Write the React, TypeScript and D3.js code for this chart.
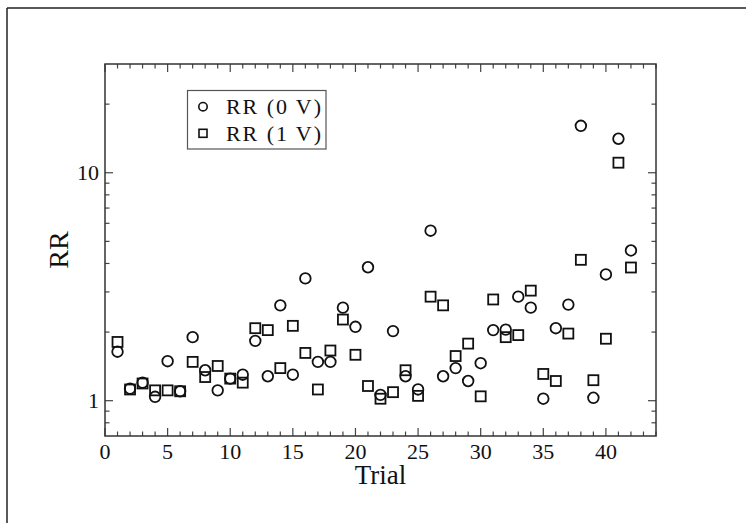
import React from "react";
import * as d3 from "d3";

const trials = [1,2,3,4,5,6,7,8,9,10,11,12,13,14,15,16,17,18,19,20,21,22,23,24,25,26,27,28,29,30,31,32,33,34,35,36,37,38,39,40,41,42];
const rr0V = [1.64,1.13,1.20,1.04,1.49,1.10,1.90,1.36,1.11,1.25,1.30,1.83,1.28,2.62,1.30,3.44,1.48,1.48,2.56,2.11,3.85,1.06,2.02,1.28,1.12,5.57,1.28,1.39,1.22,1.46,2.04,2.05,2.86,2.56,1.02,2.08,2.64,16.07,1.03,3.58,14.1,4.56];
const rr1V = [1.81,1.12,1.19,1.11,1.11,1.10,1.48,1.27,1.42,1.25,1.20,2.08,2.04,1.39,2.13,1.62,1.12,1.66,2.27,1.59,1.16,1.02,1.09,1.36,1.05,2.86,2.62,1.57,1.78,1.045,2.78,1.90,1.94,3.04,1.31,1.22,1.97,4.15,1.23,1.87,11.07,3.84];
const xTicks = [0,5,10,15,20,25,30,35,40];
const yMajor = [1,10];
const yMinor = [0.8,0.9,2,3,4,5,6,7,8,9,20];
const legendLabels = ["RR (0 V)", "RR (1 V)"];

const W = 746, H = 523;
const L = 105, R = 656, T = 64, B = 436;
const FONT = "Liberation Serif, Tinos, Times New Roman, Times, serif";

export default function App() {
  const x = d3.scaleLinear().domain([0, 44]).range([L, R]);
  const y = d3.scaleLog().domain([0.7, 30]).range([B, T]);
  const xMinor = d3.range(0, 45).filter((v) => v % 5 !== 0);
  const tickCol = "#444";
  const mj = 8, mn = 4.5;
  const sq = 10;
  const fs = { fontFamily: FONT };
  return (
    <svg width={W} height={H} style={{ position: "absolute", left: 0, top: 0, background: "#fff" }}>
      <rect x={0} y={0} width={W} height={H} fill="#fff" />
      <line x1={7} y1={8} x2={7} y2={H} stroke="#222" strokeWidth={1.5} />
      <line x1={7} y1={8} x2={W} y2={8} stroke="#222" strokeWidth={1.5} />
      <g stroke={tickCol} strokeWidth={1.2}>
        {xTicks.map((t) => (
          <g key={"xt" + t}>
            <line x1={x(t)} x2={x(t)} y1={B} y2={B - mj} />
            <line x1={x(t)} x2={x(t)} y1={T} y2={T + mj} />
          </g>
        ))}
        {xMinor.map((t) => (
          <g key={"xm" + t}>
            <line x1={x(t)} x2={x(t)} y1={B} y2={B - mn} />
            <line x1={x(t)} x2={x(t)} y1={T} y2={T + mn} />
          </g>
        ))}
        {yMajor.map((t) => (
          <g key={"yt" + t}>
            <line x1={L} x2={L + mj} y1={y(t)} y2={y(t)} />
            <line x1={R} x2={R - mj} y1={y(t)} y2={y(t)} />
          </g>
        ))}
        {yMinor.map((t) => (
          <g key={"ym" + t}>
            <line x1={L} x2={L + mn} y1={y(t)} y2={y(t)} />
            <line x1={R} x2={R - mn} y1={y(t)} y2={y(t)} />
          </g>
        ))}
      </g>
      <rect x={L} y={T} width={R - L} height={B - T} fill="none" stroke="#333" strokeWidth={1.5} />
      <g style={fs} fontSize={22} fill="#111">
        {xTicks.map((t) => (
          <text key={"xl" + t} x={x(t)} y={459} textAnchor="middle">{t}</text>
        ))}
        {yMajor.map((t) => (
          <text key={"yl" + t} x={99} y={y(t) + 7.5} textAnchor="end">{t}</text>
        ))}
      </g>
      <text x={x(22)} y={484} textAnchor="middle" style={fs} fontSize={27} fill="#111">Trial</text>
      <text transform={`translate(68,${(T + B) / 2}) rotate(-90)`} textAnchor="middle" style={fs} fontSize={28} fill="#111">RR</text>
      <g fill="none" stroke="#111" strokeWidth={1.8}>
        {trials.map((t, i) => (
          <circle key={"c" + t} cx={x(t)} cy={y(rr0V[i])} r={5.3} />
        ))}
        {trials.map((t, i) => (
          <rect key={"s" + t} x={x(t) - sq / 2} y={y(rr1V[i]) - sq / 2} width={sq} height={sq} />
        ))}
      </g>
      <rect x={187.5} y={90.5} width={138.5} height={58.5} fill="#fff" stroke="#555" strokeWidth={1.2} />
      <circle cx={203} cy={106.7} r={4.2} fill="none" stroke="#111" strokeWidth={1.6} />
      <rect x={199} y={129.3} width={8} height={8} fill="none" stroke="#111" strokeWidth={1.6} />
      <g style={fs} fontSize={22} fill="#111">
        <text x={226} y={113.5} textLength={95} lengthAdjust="spacing">{legendLabels[0]}</text>
        <text x={226} y={140.5} textLength={95} lengthAdjust="spacing">{legendLabels[1]}</text>
      </g>
    </svg>
  );
}
